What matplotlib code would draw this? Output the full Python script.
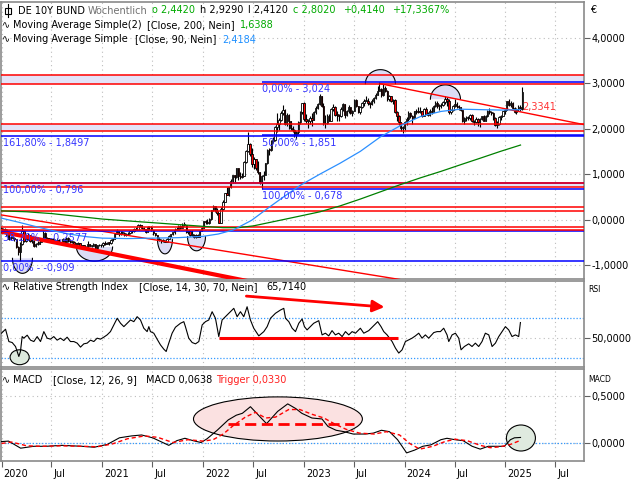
import numpy as np
import pandas as pd
import matplotlib
matplotlib.use('agg')
import matplotlib.pyplot as plt
from matplotlib.patches import Ellipse, Rectangle
from matplotlib.lines import Line2D
from matplotlib.ticker import FuncFormatter
from matplotlib.transforms import ScaledTranslation

# ---- weekly candles, DE 10Y Bund yield (one entry per week) ----
close_2020 = [-0.28, -0.21, -0.22, -0.34, -0.43, -0.38, -0.40, -0.44, -0.61, -0.71,
              -0.55, -0.25, -0.48, -0.44, -0.35, -0.47, -0.47, -0.58, -0.54, -0.53,
              -0.49, -0.45, -0.29, -0.44, -0.41, -0.48, -0.43, -0.46, -0.46, -0.45,
              -0.52, -0.51, -0.42, -0.50, -0.40, -0.47, -0.49, -0.49, -0.53, -0.53,
              -0.52, -0.62, -0.57, -0.63, -0.62, -0.54, -0.58, -0.58, -0.54, -0.63,
              -0.57, -0.56]
high_2020 = [-0.17, -0.18, -0.18, -0.21, -0.32, -0.36, -0.36, -0.38, -0.42, -0.59,
             -0.50, -0.13, -0.22, -0.36, -0.30, -0.34, -0.42, -0.45, -0.52, -0.48,
             -0.44, -0.40, -0.26, -0.28, -0.38, -0.40, -0.40, -0.41, -0.43, -0.41,
             -0.44, -0.49, -0.40, -0.42, -0.38, -0.38, -0.44, -0.47, -0.48, -0.51,
             -0.49, -0.51, -0.56, -0.56, -0.59, -0.48, -0.53, -0.56, -0.52, -0.53,
             -0.56, -0.55]
low_2020 = [-0.30, -0.29, -0.25, -0.36, -0.45, -0.44, -0.42, -0.47, -0.62, -0.78,
            -0.91, -0.57, -0.50, -0.50, -0.46, -0.49, -0.52, -0.60, -0.60, -0.56,
            -0.54, -0.50, -0.46, -0.46, -0.47, -0.50, -0.50, -0.48, -0.49, -0.49,
            -0.54, -0.55, -0.52, -0.52, -0.51, -0.49, -0.51, -0.51, -0.55, -0.56,
            -0.55, -0.63, -0.63, -0.65, -0.66, -0.62, -0.59, -0.60, -0.59, -0.64,
            -0.64, -0.59]

close_2021 = [-0.57, -0.52, -0.54, -0.51, -0.52, -0.45, -0.43, -0.31, -0.26, -0.31,
              -0.30, -0.29, -0.35, -0.33, -0.30, -0.26, -0.26, -0.20, -0.22, -0.13,
              -0.13, -0.18, -0.21, -0.27, -0.17, -0.16, -0.24, -0.29, -0.35, -0.42,
              -0.46, -0.46, -0.47, -0.49, -0.42, -0.36, -0.33, -0.28, -0.22, -0.22,
              -0.15, -0.18, -0.11, -0.11, -0.28, -0.26, -0.34, -0.34, -0.39, -0.35,
              -0.38, -0.25, -0.18]
high_2021 = [-0.55, -0.49, -0.48, -0.49, -0.50, -0.43, -0.41, -0.29, -0.21, -0.25,
             -0.26, -0.25, -0.27, -0.29, -0.28, -0.24, -0.22, -0.18, -0.17, -0.10,
             -0.09, -0.12, -0.16, -0.20, -0.15, -0.14, -0.15, -0.22, -0.29, -0.34,
             -0.39, -0.44, -0.43, -0.45, -0.41, -0.34, -0.31, -0.27, -0.19, -0.17,
             -0.12, -0.13, -0.08, -0.05, -0.11, -0.24, -0.24, -0.23, -0.32, -0.33,
             -0.33, -0.23, -0.16]
low_2021 = [-0.60, -0.60, -0.56, -0.55, -0.56, -0.53, -0.48, -0.44, -0.33, -0.36,
            -0.35, -0.33, -0.36, -0.36, -0.34, -0.32, -0.29, -0.27, -0.24, -0.23,
            -0.16, -0.20, -0.22, -0.29, -0.28, -0.22, -0.25, -0.34, -0.36, -0.43,
            -0.47, -0.51, -0.49, -0.50, -0.50, -0.43, -0.38, -0.35, -0.33, -0.24,
            -0.23, -0.20, -0.18, -0.14, -0.29, -0.31, -0.36, -0.36, -0.41, -0.40,
            -0.39, -0.38, -0.26]

close_2022 = [-0.04, -0.05, -0.07, 0.01, 0.21, 0.30, 0.19, 0.14, -0.07, 0.24,
              0.38, 0.58, 0.55, 0.71, 0.84, 0.97, 0.94, 1.13, 0.95, 0.94,
              0.96, 1.27, 1.51, 1.66, 1.44, 1.23, 1.34, 1.13, 1.04, 0.82,
              0.96, 0.99, 1.24, 1.54, 1.53, 1.72, 1.76, 2.03, 2.11, 2.19,
              2.35, 2.41, 2.10, 2.30, 2.16, 2.01, 1.97, 1.86, 1.93, 2.15,
              2.36, 2.57]
high_2022 = [-0.03, -0.02, 0.02, 0.03, 0.22, 0.31, 0.30, 0.25, 0.14, 0.27,
             0.42, 0.59, 0.71, 0.72, 0.89, 0.98, 0.99, 1.14, 1.13, 1.05,
             1.03, 1.29, 1.53, 1.93, 1.69, 1.58, 1.37, 1.31, 1.28, 1.05,
             0.98, 1.07, 1.25, 1.55, 1.58, 1.75, 1.82, 2.06, 2.35, 2.23,
             2.40, 2.53, 2.44, 2.35, 2.33, 2.18, 2.05, 2.00, 1.95, 2.17,
             2.40, 2.57]
low_2022 = [-0.18, -0.10, -0.10, -0.09, 0.00, 0.19, 0.17, 0.11, -0.08, -0.03,
            0.22, 0.38, 0.53, 0.51, 0.70, 0.81, 0.80, 0.91, 0.88, 0.89,
            0.91, 0.97, 1.25, 1.49, 1.40, 1.15, 1.11, 1.09, 1.00, 0.78,
            0.68, 0.86, 0.97, 1.22, 1.41, 1.50, 1.68, 1.73, 1.93, 1.97,
            2.18, 2.30, 2.08, 2.05, 1.99, 1.97, 1.92, 1.82, 1.77, 1.89,
            2.11, 2.33]

close_2023 = [2.21, 2.17, 2.18, 2.24, 2.20, 2.36, 2.46, 2.54, 2.71, 2.50,
              2.12, 2.13, 2.29, 2.18, 2.44, 2.48, 2.31, 2.30, 2.28, 2.43,
              2.54, 2.31, 2.38, 2.48, 2.35, 2.39, 2.64, 2.49, 2.36, 2.47,
              2.56, 2.62, 2.62, 2.56, 2.55, 2.60, 2.67, 2.74, 2.84, 2.88,
              2.74, 2.89, 2.83, 2.65, 2.72, 2.61, 2.64, 2.36, 2.28, 2.14,
              2.02, 2.02]
high_2023 = [2.58, 2.33, 2.22, 2.29, 2.34, 2.38, 2.50, 2.57, 2.77, 2.72,
             2.56, 2.31, 2.33, 2.33, 2.45, 2.55, 2.50, 2.38, 2.33, 2.47,
             2.56, 2.53, 2.42, 2.52, 2.48, 2.41, 2.66, 2.65, 2.50, 2.51,
             2.59, 2.65, 2.71, 2.67, 2.58, 2.66, 2.70, 2.79, 2.93, 3.02,
             2.90, 2.99, 2.94, 2.85, 2.75, 2.73, 2.66, 2.66, 2.38, 2.30,
             2.14, 2.06]
low_2023 = [2.18, 2.12, 2.02, 2.11, 2.05, 2.19, 2.32, 2.44, 2.53, 2.47,
            2.09, 2.02, 2.10, 2.16, 2.17, 2.40, 2.29, 2.18, 2.18, 2.26,
            2.40, 2.23, 2.28, 2.34, 2.33, 2.27, 2.38, 2.47, 2.34, 2.33,
            2.45, 2.50, 2.60, 2.53, 2.46, 2.52, 2.57, 2.66, 2.74, 2.84,
            2.70, 2.72, 2.80, 2.62, 2.60, 2.58, 2.55, 2.34, 2.17, 2.08,
            1.96, 1.90]

close_2024 = [2.15, 2.21, 2.34, 2.29, 2.24, 2.38, 2.40, 2.36, 2.40, 2.27,
              2.44, 2.33, 2.30, 2.40, 2.36, 2.50, 2.57, 2.50, 2.52, 2.52,
              2.58, 2.66, 2.62, 2.36, 2.42, 2.50, 2.55, 2.50, 2.47, 2.41,
              2.17, 2.23, 2.25, 2.23, 2.30, 2.17, 2.15, 2.21, 2.14, 2.22,
              2.27, 2.18, 2.29, 2.40, 2.36, 2.35, 2.24, 2.09, 2.11, 2.25,
              2.29, 2.39]
high_2024 = [2.18, 2.25, 2.38, 2.36, 2.30, 2.40, 2.44, 2.48, 2.48, 2.39,
             2.46, 2.47, 2.36, 2.43, 2.47, 2.52, 2.62, 2.61, 2.55, 2.56,
             2.61, 2.71, 2.70, 2.66, 2.44, 2.52, 2.66, 2.58, 2.52, 2.48,
             2.42, 2.26, 2.28, 2.28, 2.32, 2.32, 2.20, 2.25, 2.24, 2.24,
             2.29, 2.30, 2.31, 2.42, 2.46, 2.40, 2.37, 2.25, 2.16, 2.27,
             2.31, 2.40]
low_2024 = [1.97, 2.09, 2.18, 2.24, 2.11, 2.25, 2.32, 2.35, 2.34, 2.26,
            2.27, 2.32, 2.29, 2.27, 2.32, 2.36, 2.48, 2.46, 2.42, 2.45,
            2.49, 2.55, 2.49, 2.33, 2.32, 2.38, 2.48, 2.46, 2.42, 2.38,
            2.15, 2.10, 2.17, 2.19, 2.20, 2.15, 2.08, 2.13, 2.05, 2.03,
            2.19, 2.17, 2.16, 2.26, 2.33, 2.30, 2.20, 2.07, 2.02, 2.08,
            2.20, 2.27]

close_2025 = [2.42, 2.60, 2.53, 2.57, 2.46, 2.37, 2.43, 2.47, 2.442, 2.802]
high_2025 = [2.44, 2.62, 2.66, 2.60, 2.58, 2.47, 2.45, 2.52, 2.53, 2.929]
low_2025 = [2.33, 2.42, 2.51, 2.47, 2.44, 2.35, 2.33, 2.40, 2.38, 2.412]

first_open = -0.19

# ---- moving averages (decimal year, value) ----
ma200_t = [2020.00, 2020.25, 2020.50, 2020.75, 2021.00, 2021.25, 2021.50, 2021.75, 2022.00,
           2022.20, 2022.35, 2022.50, 2022.65, 2022.80, 2022.97, 2023.16, 2023.36, 2023.56,
           2023.76, 2023.96, 2024.16, 2024.36, 2024.56, 2024.75, 2024.95, 2025.15]
ma200_v = [0.19, 0.17, 0.13, 0.07, 0.01, -0.03, -0.07, -0.11, -0.15,
           -0.18, -0.18, -0.14, -0.07, 0.00, 0.08, 0.17, 0.30, 0.45,
           0.61, 0.77, 0.92, 1.06, 1.21, 1.35, 1.50, 1.64]
ma90_t = [2020.00, 2020.17, 2020.33, 2020.50, 2020.67, 2020.85, 2021.00, 2021.25, 2021.50,
          2021.75, 2022.00, 2022.15, 2022.30, 2022.48, 2022.65, 2022.80, 2022.97, 2023.16,
          2023.36, 2023.56, 2023.76, 2023.96, 2024.16, 2024.36, 2024.55, 2024.75, 2024.95, 2025.15]
ma90_v = [0.03, -0.06, -0.15, -0.24, -0.32, -0.38, -0.41, -0.42, -0.41,
          -0.40, -0.37, -0.32, -0.23, -0.02, 0.26, 0.50, 0.76, 1.00,
          1.24, 1.50, 1.82, 2.07, 2.27, 2.38, 2.43, 2.42, 2.41, 2.42]

# horizontal levels
red_levels = [3.19, 2.98, 2.10, 1.95, 0.80, 0.72, 0.275, 0.19, -0.17, -0.22]
bands = [(2.98, 3.19), (1.95, 2.10), (0.72, 0.80)]
fib1_levels = [1.8497, 0.796, -0.2577, -0.909]
fib1_labels = ['161,80% - 1,8497', '100,00% - 0,796', '38,20% - -0,2577', '0,00% - -0,909']
fib2_levels = [3.024, 1.851, 0.678]
fib2_labels = ['0,00% - 3,024', '50,00% - 1,851', '100,00% - 0,678']
fib2_start = 2022.58

# ---- RSI (decimal year, value) ----
rsi_pts = [(2020.000, 55), (2020.040, 59), (2020.073, 46.6), (2020.106, 45.6), (2020.139, 41.6),
           (2020.172, 31.6), (2020.188, 36.6), (2020.205, 51.6), (2020.221, 50), (2020.255, 53),
           (2020.288, 48), (2020.321, 46.6), (2020.354, 51.6), (2020.387, 46.6), (2020.420, 56.6),
           (2020.453, 50), (2020.486, 49), (2020.519, 51.6), (2020.552, 48), (2020.585, 50),
           (2020.618, 47.6), (2020.651, 51), (2020.684, 46.6), (2020.718, 46.6), (2020.751, 45),
           (2020.784, 41), (2020.817, 44.3), (2020.850, 45), (2020.883, 48), (2020.916, 46.6),
           (2020.949, 50), (2020.982, 49), (2021.015, 51), (2021.048, 53.3), (2021.081, 56.6),
           (2021.114, 63.3), (2021.148, 70), (2021.181, 65), (2021.214, 61.6), (2021.247, 65),
           (2021.280, 68.3), (2021.313, 66.6), (2021.346, 71.6), (2021.379, 68.3), (2021.412, 60),
           (2021.445, 56.6), (2021.462, 61.6), (2021.478, 56.6), (2021.511, 55), (2021.544, 49),
           (2021.577, 43.3), (2021.610, 39), (2021.634, 36.6), (2021.660, 45), (2021.693, 55),
           (2021.726, 61), (2021.776, 65), (2021.809, 66.6), (2021.825, 61.6), (2021.858, 50),
           (2021.892, 45.6), (2021.925, 44.3), (2021.958, 46.6), (2021.991, 63.3), (2022.024, 66.6),
           (2022.057, 68.3), (2022.090, 76.6), (2022.123, 70), (2022.156, 51.6), (2022.189, 68.3),
           (2022.239, 73.3), (2022.272, 76.6), (2022.305, 80), (2022.338, 71.6), (2022.371, 76.6),
           (2022.404, 71.6), (2022.437, 81.6), (2022.470, 68.3), (2022.503, 60), (2022.553, 52.3),
           (2022.603, 56.6), (2022.636, 61.6), (2022.669, 70), (2022.718, 75), (2022.768, 78.3),
           (2022.801, 80), (2022.818, 70), (2022.851, 66.6), (2022.884, 60), (2022.917, 56.6),
           (2022.950, 65), (2022.983, 69.3), (2023.006, 61.6), (2023.032, 58.3), (2023.065, 61.6),
           (2023.098, 65), (2023.148, 67.6), (2023.181, 53.3), (2023.214, 55), (2023.247, 52.3),
           (2023.280, 57.6), (2023.313, 53.3), (2023.346, 55), (2023.380, 51.6), (2023.413, 56.6),
           (2023.446, 53.3), (2023.479, 56.6), (2023.512, 55), (2023.561, 60), (2023.595, 55),
           (2023.644, 57.6), (2023.694, 62.6), (2023.733, 66.6), (2023.766, 61.6), (2023.793, 56.6),
           (2023.826, 53.3), (2023.876, 46.6), (2023.909, 40), (2023.942, 35), (2023.975, 38.3),
           (2024.008, 46.6), (2024.041, 48.3), (2024.074, 50), (2024.107, 52.3), (2024.140, 55),
           (2024.173, 50), (2024.206, 53.3), (2024.239, 50), (2024.289, 55.6), (2024.322, 56.6),
           (2024.355, 56.6), (2024.388, 60), (2024.421, 53.3), (2024.438, 46.6), (2024.471, 53.3),
           (2024.504, 55), (2024.537, 50), (2024.560, 38.3), (2024.593, 41.6), (2024.636, 44.3),
           (2024.669, 41.6), (2024.702, 45), (2024.735, 41.6), (2024.768, 46.6), (2024.801, 55),
           (2024.835, 53.3), (2024.868, 41.6), (2024.901, 45), (2024.934, 51.6), (2024.967, 56.6),
           (2025.000, 61.6), (2025.033, 58.3), (2025.066, 51.6), (2025.099, 53.3), (2025.132, 51.6),
           (2025.149, 65.714)]

# ---- MACD and trigger (decimal year, value) ----
macd_pts = [(2020.00, 0.02), (2020.07, 0.025), (2020.19, -0.05), (2020.32, -0.03), (2020.44, -0.03),
            (2020.60, -0.02), (2020.80, -0.03), (2020.92, -0.04), (2021.05, -0.01), (2021.17, 0.06),
            (2021.29, 0.08), (2021.39, 0.09), (2021.50, 0.06), (2021.60, 0.01), (2021.66, -0.02),
            (2021.74, 0.03), (2021.82, 0.055), (2021.90, 0.03), (2021.98, 0.01), (2022.04, 0.05),
            (2022.14, 0.14), (2022.25, 0.25), (2022.33, 0.30), (2022.39, 0.32), (2022.47, 0.39),
            (2022.55, 0.30), (2022.63, 0.21), (2022.74, 0.34), (2022.84, 0.42), (2022.92, 0.37),
            (2022.98, 0.32), (2023.08, 0.27), (2023.18, 0.26), (2023.24, 0.18), (2023.32, 0.14),
            (2023.40, 0.125), (2023.49, 0.10), (2023.61, 0.10), (2023.69, 0.11), (2023.77, 0.14),
            (2023.85, 0.125), (2023.93, 0.04), (2024.02, -0.10), (2024.10, -0.07), (2024.18, -0.03),
            (2024.26, -0.015), (2024.36, 0.04), (2024.42, 0.055), (2024.50, 0.04), (2024.58, 0.03),
            (2024.67, -0.03), (2024.75, -0.06), (2024.83, -0.03), (2024.91, -0.03), (2024.99, -0.03),
            (2025.05, 0.04), (2025.09, 0.06), (2025.15, 0.0638)]
trig_pts = [(2020.00, 0.0), (2020.10, 0.015), (2020.25, -0.025), (2020.40, -0.03), (2020.60, -0.025),
            (2020.80, -0.03), (2020.95, -0.035), (2021.10, -0.005), (2021.25, 0.05), (2021.42, 0.08),
            (2021.55, 0.065), (2021.70, 0.01), (2021.85, 0.04), (2022.00, 0.025), (2022.10, 0.04),
            (2022.20, 0.10), (2022.30, 0.19), (2022.42, 0.28), (2022.52, 0.33), (2022.62, 0.27),
            (2022.72, 0.28), (2022.85, 0.36), (2022.96, 0.36), (2023.08, 0.31), (2023.20, 0.27),
            (2023.30, 0.21), (2023.42, 0.15), (2023.55, 0.11), (2023.70, 0.10), (2023.82, 0.125),
            (2023.95, 0.09), (2024.05, 0.0), (2024.15, -0.06), (2024.28, -0.03), (2024.40, 0.02),
            (2024.50, 0.045), (2024.62, 0.03), (2024.75, -0.02), (2024.85, -0.045), (2024.95, -0.035),
            (2025.05, -0.01), (2025.15, 0.033)]

xlabels = ['2020', 'Jul', '2021', 'Jul', '2022', 'Jul', '2023', 'Jul', '2024', 'Jul', '2025', 'Jul']

# ------------------------------------------------------------------
close = close_2020 + close_2021 + close_2022 + close_2023 + close_2024 + close_2025
high = high_2020 + high_2021 + high_2022 + high_2023 + high_2024 + high_2025
low = low_2020 + low_2021 + low_2022 + low_2023 + low_2024 + low_2025

weeks = pd.date_range('2019-12-30', periods=len(close), freq='W-MON')
t = np.asarray(weeks.year + (weeks.dayofyear - 1) / np.where(weeks.is_leap_year, 366, 365), dtype=float)
c = np.array(close)
o = np.r_[first_open, c[:-1]]
h = np.maximum(np.array(high), np.maximum(o, c))
l = np.minimum(np.array(low), np.minimum(o, c))

W, H = 640, 480
X0, X1 = 2019.995, 2025.78


def px_box(x0, y0, x1, y1):
    return [x0 / W, 1 - y1 / H, (x1 - x0) / W, (y1 - y0) / H]


def ftext(x, y, s, color='black', size=7):
    fig.text(x / W, 1 - y / H, s, color=color, fontsize=size, ha='left', va='center')


def half_ellipse(a, cx, cy, rx, ry, upper):
    th = np.linspace(0, np.pi, 60)
    sgn = 1 if upper else -1
    xs = cx + rx * np.cos(th)
    ys = cy + sgn * ry * np.sin(th)
    a.fill(xs, ys, color='#dcdcf6', lw=0, zorder=2)
    a.plot(xs, ys, color='black', lw=0.8, zorder=2.1)


fig = plt.figure(figsize=(6.4, 4.8), dpi=100)
ax = fig.add_axes(px_box(1, 2, 584, 279))
ax_rsi = fig.add_axes(px_box(1, 281, 584, 367))
ax_macd = fig.add_axes(px_box(1, 369, 584, 461))

fmt = FuncFormatter(lambda v, pos: f'{v:.4f}'.replace('.', ','))
xticks = []
for yr in range(2020, 2026):
    xticks += [yr, yr + 181 / 365]

for a in (ax, ax_rsi, ax_macd):
    a.set_xlim(X0, X1)
    a.set_xticks(xticks)
    a.yaxis.tick_right()
    a.yaxis.set_major_formatter(fmt)
    a.tick_params(axis='both', direction='out', length=4, width=0.8, color='#606060',
                  labelsize=7, pad=1.5)
    a.grid(True, color='#bdbdbd', ls=(0, (1, 3)), lw=0.8)
    a.set_axisbelow(True)
    for s in a.spines.values():
        s.set_color('#8a8a8a')
        s.set_linewidth(1.2)
ax.tick_params(axis='x', length=0, labelbottom=False)
ax_rsi.tick_params(axis='x', length=0, labelbottom=False)
ax_macd.set_xticklabels(xlabels, ha='left')
shift = ScaledTranslation(1.5 / 72, 0, fig.dpi_scale_trans)
for lbl in ax_macd.get_xticklabels():
    lbl.set_transform(lbl.get_transform() + shift)

# ---- main price panel ----
ax.set_ylim(-1.31, 4.79)
ax.set_yticks([-1, 0, 1, 2, 3, 4])
for lo_, hi_ in bands:
    ax.axhspan(lo_, hi_, color='#e3e3f8', lw=0, zorder=1)
for v in fib1_levels:
    ax.axhline(v, color='#0000ff', lw=1.1, zorder=4.8)
for v in fib2_levels:
    ax.hlines(v, fib2_start, X1, color='#0000ff', lw=1.1, zorder=4.8)
for v in red_levels:
    ax.axhline(v, color='#ff0000', lw=1.1, zorder=5)

for v, s in zip(fib1_levels, fib1_labels):
    ax.annotate(s, xy=(X0, v), xytext=(1.5, -1.5), textcoords='offset points',
                va='top', ha='left', fontsize=7, color='#3535ff', zorder=6)
for v, s in zip(fib2_levels, fib2_labels):
    ax.annotate(s, xy=(fib2_start, v), xytext=(0.5, -1.5), textcoords='offset points',
                va='top', ha='left', fontsize=7, color='#3535ff', zorder=6)

# trend lines
ax.plot([2020.0, 2022.45], [-0.27, -1.36], color='#ff0000', lw=3, solid_capstyle='butt', zorder=4.5)
ax.plot([2020.0, 2023.95], [0.10, -1.32], color='#ff0000', lw=1, zorder=4.5)
ax.plot([2023.76, X1], [2.99, 2.09], color='#ff0000', lw=1, zorder=5)
ax.text(2025.165, 2.48, '2,3341', color='#ff3333', fontsize=7, va='center', zorder=6)

# marker arcs
half_ellipse(ax, 2023.76, 2.99, 0.149, 0.31, True)
half_ellipse(ax, 2024.405, 2.65, 0.149, 0.315, True)
half_ellipse(ax, 2020.208, -0.855, 0.099, 0.33, False)
half_ellipse(ax, 2020.923, -0.606, 0.179, 0.31, False)
half_ellipse(ax, 2021.622, -0.436, 0.074, 0.32, False)
half_ellipse(ax, 2021.935, -0.379, 0.089, 0.31, False)

# moving averages
ax.plot(ma200_t, ma200_v, color='#008000', lw=0.9, zorder=5)
ax.plot(ma90_t, ma90_v, color='#2b8fff', lw=0.9, zorder=5)

# candles
up = c >= o
ax.vlines(t, l, h, color='black', lw=0.8, zorder=3)
ax.bar(t, np.maximum(np.abs(c - o), 0.015), width=0.014, bottom=np.minimum(o, c),
       color=np.where(up, 'white', '#ff0000'), edgecolor='black', linewidth=0.6, zorder=3.5)

# ---- RSI panel ----
ax_rsi.set_ylim(21, 107.5)
ax_rsi.set_yticks([50])
for v in (30, 70):
    ax_rsi.axhline(v, color='#3399ff', ls=(0, (1, 1.5)), lw=0.9, zorder=1.2)
ax_rsi.add_patch(Ellipse((2020.18, 30.8), 0.19, 15, facecolor='#dde9dd', edgecolor='black',
                         lw=0.8, zorder=1.5))
rsi_t, rsi_v = zip(*rsi_pts)
ax_rsi.plot(rsi_t, rsi_v, color='black', lw=0.8, zorder=3)
ax_rsi.hlines(50.6, 2022.156, 2023.93, color='#ff0000', lw=2.2, zorder=4)
ax_rsi.annotate('', xy=(2023.80, 81.3), xytext=(2022.43, 92.3),
                arrowprops=dict(arrowstyle='-|>,head_length=0.7,head_width=0.35',
                                color='#ff0000', lw=2, shrinkA=0, shrinkB=0), zorder=4)

# ---- MACD panel ----
ax_macd.set_ylim(-0.186, 0.79)
ax_macd.set_yticks([0, 0.5])
ax_macd.axhline(0, color='#3399ff', ls=(0, (1, 1.5)), lw=0.9, zorder=1.2)
ax_macd.add_patch(Ellipse((2022.743, 0.26), 1.676, 0.468, facecolor='#fbe1e1', edgecolor='black',
                          lw=0.8, zorder=1.5))
ax_macd.add_patch(Ellipse((2025.154, 0.058), 0.288, 0.276, facecolor='#dfeadf', edgecolor='black',
                          lw=0.8, zorder=1.5))
macd_t, macd_v = zip(*macd_pts)
trig_t, trig_v = zip(*trig_pts)
ax_macd.plot(macd_t, macd_v, color='black', lw=0.8, zorder=3)
ax_macd.plot(trig_t, trig_v, color='#ff0000', lw=1, ls=(0, (3, 2)), zorder=3.5)
ax_macd.hlines(0.21, 2022.25, 2023.5, color='#ff0000', lw=2, ls=(0, (4, 2)), zorder=4)

# ---- header texts ----
green = '#00aa00'
fig.add_artist(Line2D([8 / W, 8 / W], [1 - 4 / H, 1 - 17 / H], color='black', lw=0.8))
fig.add_artist(Rectangle((5 / W, 1 - 14 / H), 6 / W, 6 / H, facecolor='white', edgecolor='black', lw=0.8))
ftext(18, 10.5, 'DE 10Y BUND')
ftext(88, 10.5, 'Wöchentlich', '#707070')
ftext(152, 10.5, 'o 2,4420', green)
ftext(200, 10.5, 'h 2,9290')
ftext(248, 10.5, 'l 2,4120')
ftext(293, 10.5, 'c 2,8020', green)
ftext(343, 10.5, '+0,4140', green)
ftext(392, 10.5, '+17,3367%', green)

ftext(2, 25, '∿')
ftext(13, 25, 'Moving Average Simple(2)')
ftext(147, 25, '[Close, 200, Nein]')
ftext(240, 25, '1,6388', green)
ftext(2, 39.5, '∿')
ftext(13, 39.5, 'Moving Average Simple')
ftext(135, 39.5, '[Close, 90, Nein]')
ftext(222, 39.5, '2,4184', '#1e90ff')

ftext(2, 287, '∿')
ftext(13, 287, 'Relative Strength Index')
ftext(139, 287, '[Close, 14, 30, 70, Nein]')
ftext(266, 287, '65,7140')

ftext(2, 380, '∿')
ftext(13, 380, 'MACD')
ftext(53, 380, '[Close, 12, 26, 9]')
ftext(146, 380, 'MACD 0,0638')
ftext(216, 380, 'Trigger 0,0330', '#ff2020')

ftext(590, 10, '€')
ftext(588, 289, 'RSI', size=5.5)
ftext(588, 380, 'MACD', size=5.5)

fig.savefig('out.png', dpi=100)
